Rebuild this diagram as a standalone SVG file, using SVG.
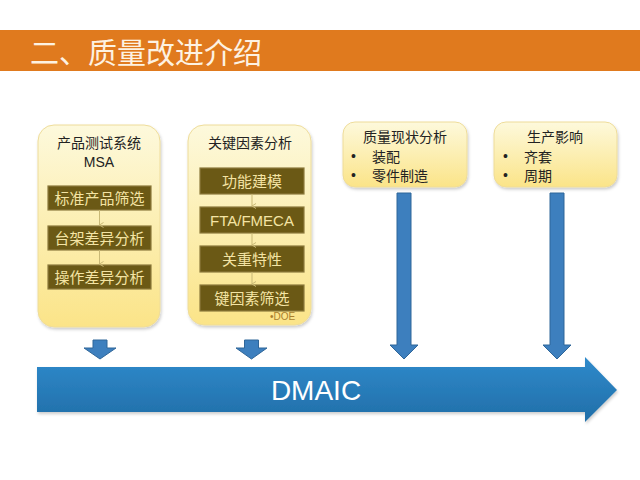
<svg xmlns="http://www.w3.org/2000/svg" width="640" height="480" viewBox="0 0 640 480">
  <defs>
    <linearGradient id="yellow" x1="0" y1="0" x2="0" y2="1">
      <stop offset="0" stop-color="#fdf9dc"/>
      <stop offset="1" stop-color="#fbe488"/>
    </linearGradient>
    <linearGradient id="blue" x1="0" y1="0" x2="0" y2="1">
      <stop offset="0" stop-color="#2f8acb"/>
      <stop offset="1" stop-color="#216ea8"/>
    </linearGradient>
    <filter id="shadow" x="-10%" y="-10%" width="130%" height="130%">
      <feDropShadow dx="1" dy="2" stdDeviation="1.5" flood-color="#000" flood-opacity="0.2"/>
    </filter>
    <marker id="tip" markerWidth="6" markerHeight="6" refX="3" refY="5" orient="auto-start-reverse" markerUnits="userSpaceOnUse">
      <path d="M0.5,1 L3,5 L5.5,1" fill="none" stroke="#c9b976" stroke-width="1"/>
    </marker>
  </defs>
  <style>
    text { font-family: "Liberation Sans", "Noto Sans CJK SC", sans-serif; }
    .panel { fill: url(#yellow); stroke: #eedc9a; stroke-width: 1; filter: url(#shadow); }
    .step { fill: #6b5915; stroke: #8c7a3c; stroke-width: 1.2; }
    .steptext { fill: #f4e4a4; font-size: 15px; text-anchor: middle; }
    .head { fill: #222; font-size: 14px; text-anchor: middle; }
    .item { fill: #222; font-size: 14px; }
    .conn { stroke: #c9b976; stroke-width: 1; fill: none; }
    .barrow { fill: #3d7fbe; stroke: #2f6699; stroke-width: 1; }
  </style>

  <rect x="0" y="30" width="640" height="41" fill="#e07a1e"/>
  <text x="30" y="64" font-size="29" fill="#fdf2e2">二、质量改进介绍</text>

  <g id="node-msa">
    <rect class="panel" x="38" y="125" width="122" height="202" rx="16"/>
    <text class="head" x="99" y="148">产品测试系统</text>
    <text class="head" x="99" y="167">MSA</text>
  </g>
  <g id="node-std">
    <rect class="step" x="48" y="186" width="103" height="24"/>
    <text class="steptext" x="99.5" y="203.5">标准产品筛选</text>
  </g>
  <g id="node-rack">
    <rect class="step" x="48" y="226" width="103" height="24"/>
    <text class="steptext" x="99.5" y="243.5">台架差异分析</text>
  </g>
  <g id="node-op">
    <rect class="step" x="48" y="265" width="103" height="24"/>
    <text class="steptext" x="99.5" y="282.5">操作差异分析</text>
  </g>

  <g id="node-key">
    <rect class="panel" x="188" y="125" width="123" height="200" rx="16"/>
    <text class="head" x="250" y="148">关键因素分析</text>
    <text x="270" y="320" font-size="10" fill="#a97f2e">•DOE</text>
  </g>
  <g id="node-func">
    <rect class="step" x="200" y="168" width="104" height="26"/>
    <text class="steptext" x="252" y="186.5">功能建模</text>
  </g>
  <g id="node-fta">
    <rect class="step" x="200" y="207" width="104" height="26"/>
    <text class="steptext" x="252" y="225.5">FTA/FMECA</text>
  </g>
  <g id="node-crit">
    <rect class="step" x="200" y="246" width="104" height="26"/>
    <text class="steptext" x="252" y="264.5">关重特性</text>
  </g>
  <g id="node-screen">
    <rect class="step" x="200" y="285" width="104" height="26"/>
    <text class="steptext" x="252" y="303.5">键因素筛选</text>
  </g>

  <g id="node-status">
    <rect class="panel" x="343" y="122" width="124" height="65" rx="12"/>
    <text class="head" x="405" y="142">质量现状分析</text>
    <text class="item" x="351" y="161">•</text>
    <text class="item" x="372" y="162">装配</text>
    <text class="item" x="351" y="180">•</text>
    <text class="item" x="372" y="181">零件制造</text>
  </g>
  <g id="node-impact">
    <rect class="panel" x="494" y="122" width="123" height="65" rx="12"/>
    <text class="head" x="555" y="142">生产影响</text>
    <text class="item" x="503" y="161">•</text>
    <text class="item" x="524" y="162">齐套</text>
    <text class="item" x="503" y="180">•</text>
    <text class="item" x="524" y="181">周期</text>
  </g>

  <g id="node-dmaic">
    <polygon points="37,367 585,367 585,357 617,390 585,422 585,412 37,412" fill="url(#blue)" filter="url(#shadow)"/>
    <text x="316" y="400" font-size="28" fill="#ffffff" text-anchor="middle">DMAIC</text>
  </g>

  <g id="connectors">
    <line class="conn" x1="99.5" y1="210" x2="99.5" y2="225" marker-end="url(#tip)"/>
    <line class="conn" x1="99.5" y1="250" x2="99.5" y2="264" marker-end="url(#tip)"/>
    <line class="conn" x1="252" y1="194" x2="252" y2="206" marker-end="url(#tip)"/>
    <line class="conn" x1="252" y1="233" x2="252" y2="245" marker-end="url(#tip)"/>
    <line class="conn" x1="252" y1="272" x2="252" y2="284" marker-end="url(#tip)"/>
    <polygon class="barrow" points="93,340 107,340 107,348 116,348 100,359 84,348 93,348"/>
    <polygon class="barrow" points="244.5,340 258.5,340 258.5,348 267,348 251.5,359 236,348 244.5,348"/>
    <polygon class="barrow" points="397,193 411,193 411,345 418,345 404,359 390,345 397,345"/>
    <polygon class="barrow" points="550,193 564,193 564,345 571,345 557,359 543,345 550,345"/>
  </g>
</svg>
